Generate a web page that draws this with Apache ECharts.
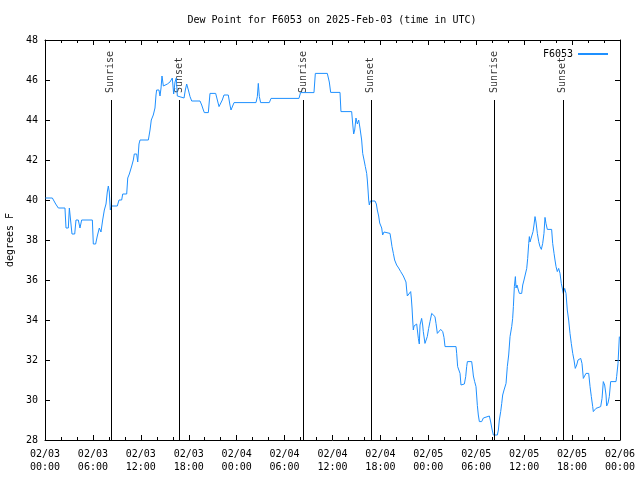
<!DOCTYPE html>
<html>
<head>
<meta charset="utf-8">
<script src="https://cdn.jsdelivr.net/npm/echarts@6/dist/echarts.min.js"></script>
<style>html,body{margin:0;padding:0;background:#fff}#c{width:640px;height:480px}</style>
</head>
<body>
<div id="c"></div>
<script>
// hours since 2025-02-03 00:00 UTC
var hours = [0.05,0.92,1.13,1.34,1.67,2.5,2.63,2.92,3.05,3.2,3.38,3.72,3.88,4.17,4.38,4.59,5.93,6.05,6.34,6.55,6.8,7.01,7.22,7.43,7.64,7.8,7.93,8.05,8.18,8.35,9.05,9.27,9.6,9.73,10.23,10.36,10.56,10.86,11.06,11.18,11.48,11.61,11.77,11.9,12.94,13.15,13.31,13.56,13.77,13.9,13.98,14.27,14.4,14.53,14.65,14.82,15.03,15.32,15.65,15.94,16.11,16.28,16.44,16.57,16.74,17.41,17.57,17.74,17.95,18.16,18.37,19.41,19.62,19.83,19.95,20.45,20.66,21.37,21.58,21.79,22.0,22.2,22.41,22.95,23.16,23.29,23.5,23.67,26.42,26.59,26.71,26.84,27.0,28.09,28.3,31.8,32.0,33.68,33.85,35.35,35.6,35.77,36.94,37.06,38.4,38.53,38.65,38.78,38.94,39.11,39.28,39.44,39.65,39.78,39.95,40.11,40.28,40.36,40.45,40.53,40.61,40.74,41.32,41.49,41.61,41.78,41.91,42.03,42.16,42.28,42.45,42.62,43.2,43.33,43.45,43.62,43.78,44.03,44.28,44.54,44.87,45.12,45.2,45.29,45.37,45.62,45.79,45.87,45.96,46.04,46.12,46.21,46.33,46.54,46.75,46.87,46.96,47.16,47.29,47.37,47.58,47.71,47.87,48.04,48.21,48.42,48.62,48.83,48.96,49.13,49.38,49.55,49.67,49.8,49.96,50.09,51.47,51.55,51.67,51.84,51.97,52.09,52.3,52.51,52.68,52.8,52.89,53.43,53.56,53.64,53.8,53.97,54.14,54.26,54.39,54.68,54.89,55.1,55.64,55.81,55.97,56.14,56.64,56.77,56.89,57.06,57.19,57.31,57.48,57.64,57.73,57.89,58.06,58.23,58.44,58.56,58.65,58.77,58.9,58.98,59.1,59.27,59.4,59.69,59.82,59.98,60.15,60.32,60.44,60.57,60.65,60.73,60.86,60.98,61.11,61.23,61.36,61.48,61.65,61.82,61.98,62.15,62.32,62.48,62.61,62.73,62.9,63.44,63.57,63.74,63.86,63.99,64.15,64.32,64.49,64.65,64.82,64.9,65.07,65.24,65.4,65.57,65.74,65.9,66.08,66.24,66.4,66.58,66.74,66.91,67.08,67.24,67.41,67.58,67.74,68.08,68.25,68.41,68.58,68.66,68.83,68.99,69.16,69.58,69.75,69.91,70.08,70.25,70.33,70.5,70.66,70.83,71.5,71.58,71.75,71.92];
var dewPoint = [40.1,40.1,40.0,39.8,39.6,39.6,38.6,38.6,39.6,39.6,38.3,38.3,39.0,39.0,38.6,39.0,39.0,37.8,37.8,38.2,38.6,38.4,39.0,39.5,39.8,40.4,40.7,40.4,39.5,39.7,39.7,40.0,40.0,40.3,40.3,41.1,41.3,41.7,42.0,42.3,42.3,41.9,42.8,43.0,43.0,43.5,44.0,44.25,44.6,45.25,45.5,45.5,45.2,45.6,46.2,45.7,45.6,45.8,45.9,46.1,45.3,45.9,46.1,45.2,45.1,45.1,45.5,45.8,45.5,45.17,44.95,44.95,44.75,44.5,44.37,44.37,45.33,45.33,45.0,44.67,44.75,45.0,45.25,45.25,44.75,44.5,44.55,44.87,44.87,45.17,45.83,45.17,44.87,44.87,45.08,45.08,45.37,45.37,46.33,46.33,45.9,45.38,45.38,44.42,44.42,43.8,43.3,43.5,44.1,43.8,44.0,43.6,43.0,42.33,42.0,41.67,41.33,41.0,40.5,40.0,39.75,39.95,39.95,39.8,39.5,39.2,38.85,38.9,38.6,38.25,38.4,38.33,38.33,38.0,37.67,37.33,37.0,36.75,36.6,36.42,36.2,36.2,35.9,35.5,35.2,35.2,35.42,35.1,34.6,34.0,33.5,33.7,33.8,33.8,33.08,32.8,33.75,34.08,33.75,33.42,32.83,32.9,33.17,33.58,33.92,34.33,34.33,34.17,33.83,33.33,33.33,33.53,33.63,33.42,33.13,32.67,32.67,32.33,31.67,31.67,31.33,30.75,30.67,30.8,31.17,31.67,31.92,31.92,31.5,31.2,30.92,30.67,29.72,29.25,28.92,28.92,29.1,29.2,29.2,28.9,28.55,28.25,28.25,28.5,29.0,29.42,29.83,30.25,30.5,30.5,30.83,31.67,32.25,33.17,33.67,34.08,34.67,35.67,36.17,35.6,35.75,35.5,35.33,35.33,35.75,36.0,36.05,36.58,37.08,37.83,38.17,37.9,38.0,37.83,38.42,38.75,39.17,38.9,38.33,37.92,37.67,37.53,37.83,38.33,39.13,38.83,38.53,38.53,37.83,37.33,37.0,36.67,36.42,36.58,36.33,35.83,35.5,35.33,35.58,35.33,34.5,34.0,33.33,32.83,32.33,32.0,31.58,31.75,32.0,32.08,32.08,31.83,31.08,31.08,31.33,31.33,30.67,30.17,29.67,29.42,29.42,29.58,29.67,29.67,30.08,30.92,30.75,30.25,29.7,29.85,30.17,30.92,30.92,31.17,31.83,33.17];
var xTickLabels = ['02/03\n00:00','02/03\n06:00','02/03\n12:00','02/03\n18:00','02/04\n00:00','02/04\n06:00','02/04\n12:00','02/04\n18:00','02/05\n00:00','02/05\n06:00','02/05\n12:00','02/05\n18:00','02/06\n00:00'];
var sunEventHours = [8.25, 16.8, 32.3, 40.8, 56.25, 64.85];
var sunEventNames = ['Sunrise','Sunset','Sunrise','Sunset','Sunrise','Sunset'];
var sunLineTop = 45;
var seriesName = 'F6053';

var FONT = 'DejaVu Sans Mono';
var chart = echarts.init(document.getElementById('c'), null, {renderer:'canvas'});
var pts = hours.map(function(h,i){return [h, dewPoint[i]];});
var evPts = sunEventHours.map(function(h,i){return {value:[h, sunLineTop], name: sunEventNames[i]};});
var mlData = sunEventHours.map(function(h){return [{coord:[h,28]},{coord:[h,sunLineTop]}];});

function xAx(pos, showLabel){
  return {type:'value', min:0, max:72, interval:6, position:pos,
    axisLine:{show:true, onZero:false, lineStyle:{color:'#000', width:1}},
    axisTick:{show:true, inside:true, length:5, lineStyle:{color:'#000'}},
    minorTick:{show:true, splitNumber:3, length:3, lineStyle:{color:'#000'}},
    splitLine:{show:false},
    axisLabel:{show:showLabel, margin:8, color:'#000', fontFamily:FONT, fontSize:10, lineHeight:13,
      formatter:function(v){return xTickLabels[Math.round(v/6)];}}};
}
function yAx(pos, showLabel){
  return {type:'value', min:28, max:48, interval:2, position:pos,
    axisLine:{show:true, onZero:false, lineStyle:{color:'#000', width:1}},
    axisTick:{show:true, inside:true, length:5, lineStyle:{color:'#000'}},
    splitLine:{show:false},
    axisLabel:{show:showLabel, margin:7, color:'#000', fontFamily:FONT, fontSize:10},
    name: showLabel ? 'degrees F' : '', nameLocation:'middle', nameRotate:90, nameGap:30,
    nameTextStyle:{color:'#000', fontFamily:FONT, fontSize:10}};
}

chart.setOption({
  animation:false,
  backgroundColor:'#fff',
  title:{text:'Dew Point for F6053 on 2025-Feb-03 (time in UTC)', left:327, top:10, textAlign:'center',
    textStyle:{color:'#000', fontFamily:FONT, fontSize:10, fontWeight:'normal'}},
  legend:{data:[seriesName], right:26, top:44, itemWidth:30, itemHeight:2, itemGap:6, align:'right',
    textStyle:{color:'#000', fontFamily:FONT, fontSize:10}},
  grid:{left:45, right:20, top:40, bottom:40, containLabel:false, outerBoundsMode:'none'},
  xAxis:[xAx('bottom', true), xAx('top', false)],
  yAxis:[yAx('left', true), yAx('right', false)],
  series:[
    {name:seriesName, type:'line', data:pts, symbol:'none', showSymbol:false,
      lineStyle:{color:'#1e90ff', width:1}, itemStyle:{color:'#1e90ff'}},
    {name:'sun', type:'scatter', data:evPts, symbolSize:0, silent:true,
      label:{show:true, formatter:function(p){return p.name;}, position:'top', distance:7,
        rotate:90, align:'left', verticalAlign:'middle', color:'#000', fontFamily:FONT, fontSize:10},
      markLine:{silent:true, symbol:['none','none'], label:{show:false},
        lineStyle:{color:'#000', width:1, type:'solid'}, data:mlData}}
  ]
});
</script>
</body>
</html>
